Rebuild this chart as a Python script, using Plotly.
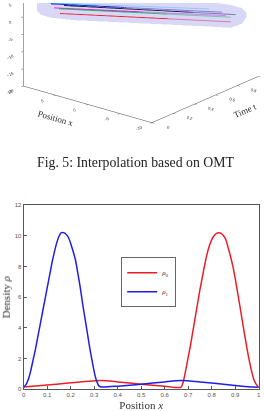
import plotly.graph_objects as go

# ---------------- bottom chart data (Density vs Position) ----------------
rho1_x = [0.00, 0.01, 0.02, 0.03, 0.04, 0.05, 0.06, 0.07, 0.08, 0.09, 0.10, 0.11, 0.12,
          0.13, 0.14, 0.15, 0.16, 0.17, 0.18, 0.19, 0.20, 0.21, 0.22, 0.23, 0.24, 0.25,
          0.26, 0.27, 0.28, 0.29, 0.30, 0.31, 0.32, 0.33, 0.40, 0.50, 0.60, 0.67, 0.75,
          0.85, 0.93, 1.00]
rho1_y = [0.13, 0.30, 0.65, 1.20, 1.90, 2.60, 3.40, 4.20, 5.00, 5.80, 6.60, 7.40, 8.20,
          8.90, 9.50, 9.95, 10.20, 10.20, 10.10, 9.90, 9.50, 9.00, 8.45, 7.60, 6.70, 5.65,
          4.70, 3.75, 2.80, 1.95, 1.15, 0.55, 0.22, 0.15, 0.20, 0.33, 0.48, 0.57, 0.48,
          0.32, 0.20, 0.13]

rho0_x = [0.00, 0.10, 0.20, 0.33, 0.40, 0.50, 0.60, 0.669, 0.68, 0.69, 0.70, 0.71, 0.72,
          0.73, 0.74, 0.75, 0.76, 0.77, 0.78, 0.79, 0.80, 0.81, 0.82, 0.83, 0.84, 0.85,
          0.86, 0.87, 0.88, 0.89, 0.90, 0.91, 0.92, 0.93, 0.94, 0.95, 0.96, 0.97, 0.98,
          0.99, 1.00]
rho0_y = [0.15, 0.28, 0.42, 0.57, 0.48, 0.33, 0.20, 0.13, 0.55, 1.30, 2.10, 2.90, 3.80,
          4.70, 5.60, 6.50, 7.30, 8.10, 8.80, 9.35, 9.75, 10.00, 10.15, 10.20, 10.15, 10.00,
          9.75, 9.20, 8.65, 8.00, 7.20, 6.30, 5.40, 4.45, 3.55, 2.65, 1.85, 1.15, 0.60,
          0.30, 0.13]

x_ticks = [0, 0.1, 0.2, 0.3, 0.4, 0.5, 0.6, 0.7, 0.8, 0.9, 1]
y_ticks = [0, 2, 4, 6, 8, 10, 12]

# ---------------- top 3D chart data (cropped OMT interpolation) ----------------
# each line: time (start, end), position (start, end), velocity (start, end)
line_names = ["cyan", "blue", "black", "magenta", "green", "red"]
line_colors = ["#5fd0ff", "#1a1adc", "#1a1a40", "#e020e0", "#20c060", "#e82030"]
line_t = [[0, 1], [0, 1], [0, 1], [0, 1], [0, 1], [0, 1]]
line_pos = [[6.15, -2.31], [5.69, -4.31], [3.69, -6.46], [5.23, -4.92], [4.46, -5.69], [4.31, -5.69]]
line_vel = [[6.03, -4.63], [6.00, -4.50], [6.57, -4.07], [5.09, -5.17], [5.21, -5.22], [3.94, -6.56]]

# shaded band (upper and lower edge) around the lines
band_t = [0.0, 0.03, 0.08, 0.2, 0.5, 0.8, 0.92, 0.97, 1.0]
band_pos = [7.85, 7.73, 7.02, 5.17, 0.15, -4.86, -7.02, -7.88, -8.15]
band_vel_top = [5.71, 7.08, 7.93, 6.73, 4.21, 1.68, 0.07, -1.0, -2.69]
band_vel_bot = [2.86, 1.37, 0.21, -1.13, -3.37, -5.6, -6.5, -5.57, -3.83]

t_ticks = [0, 0.2, 0.4, 0.6, 0.8, 1]
pos_ticks = [-10, -5, 0, 5, 10]
vel_ticks = [-20, -15, -10, -5, 0, 5, 10, 15, 20]

W, H = 264, 411
AX = "#555555"
SERIF = "Liberation Serif"

fig = go.Figure()

# 3D part
band_color = "rgb(190,190,240)"
fig.add_trace(go.Surface(
    x=[band_t, band_t], y=[band_pos, band_pos], z=[band_vel_top, band_vel_bot],
    colorscale=[[0, band_color], [1, band_color]], showscale=False, opacity=0.6,
    lighting=dict(ambient=1, diffuse=0, specular=0, roughness=1, fresnel=0),
    hoverinfo="skip", scene="scene"))
for nm, c, tt, pp, vv in zip(line_names, line_colors, line_t, line_pos, line_vel):
    fig.add_trace(go.Scatter3d(x=tt, y=pp, z=vv, mode="lines", line=dict(color=c, width=2),
                               showlegend=False, name=nm, scene="scene"))

# 2D part
fig.add_trace(go.Scatter(x=rho0_x, y=rho0_y, mode="lines", name="<i>ρ</i><sub>0</sub>",
                         line=dict(color="rgb(235,30,40)", width=1.5, shape="spline", smoothing=0.6),
                         xaxis="x", yaxis="y"))
fig.add_trace(go.Scatter(x=rho1_x, y=rho1_y, mode="lines", name="<i>ρ</i><sub>1</sub>",
                         line=dict(color="rgb(30,30,230)", width=1.5, shape="spline", smoothing=0.6),
                         xaxis="x", yaxis="y"))

axis3d = dict(showgrid=False, showbackground=False, showline=True, linecolor="#444", linewidth=1,
              zeroline=False, ticks="outside", ticklen=3, tickcolor="#444", showspikes=False,
              tickfont=dict(size=7, color="#333", family="Liberation Sans"))

fig.update_layout(
    width=W, height=H, margin=dict(l=0, r=0, t=0, b=0),
    paper_bgcolor="white", plot_bgcolor="white",
    showlegend=True,
    scene=dict(
        domain=dict(x=[0, 1], y=[0.67, 1]),
        xaxis=dict(axis3d, range=[0, 1], tickvals=t_ticks,
                   title=dict(text="Time t", font=dict(family=SERIF, size=9, color="#333"))),
        yaxis=dict(axis3d, range=[-10, 10], tickvals=pos_ticks,
                   title=dict(text="Position x", font=dict(family=SERIF, size=9, color="#333"))),
        zaxis=dict(axis3d, range=[-20, 20], tickvals=vel_ticks,
                   title=dict(text="Velocity v", font=dict(family=SERIF, size=9, color="#333"))),
        aspectmode="manual", aspectratio=dict(x=2.53, y=2.47, z=2.21),
        camera=dict(projection=dict(type="orthographic"),
                    eye=dict(x=-3.229, y=-2.445, z=0.596),
                    center=dict(x=-0.321, y=-0.089, z=-0.812), up=dict(x=0, y=0, z=1)),
    ),
    xaxis=dict(domain=[22 / W, 260.7 / W], range=[0, 1], tickvals=x_ticks,
               showline=True, mirror=True, linecolor=AX, linewidth=1, showgrid=False, zeroline=False,
               ticks="inside", ticklen=3, tickcolor=AX,
               tickfont=dict(size=6, color="#555", family="Liberation Sans"),
               title=dict(text="Position <i>x</i>", standoff=3,
                          font=dict(family=SERIF, size=11, color="#333")),
               anchor="y"),
    yaxis=dict(domain=[1 - 392 / H, 1 - 205 / H], range=[0, 12], tickvals=y_ticks,
               showline=True, mirror=True, linecolor=AX, linewidth=1, showgrid=False, zeroline=False,
               ticks="inside", ticklen=3, tickcolor=AX,
               tickfont=dict(size=6, color="#555", family="Liberation Sans"),
               title=dict(text="Density <i>ρ</i>", standoff=4,
                          font=dict(family=SERIF, size=11, color="#333")),
               anchor="x"),
    legend=dict(x=121 / W, y=1 - 258 / H, xanchor="left", yanchor="top",
                bgcolor="white", bordercolor="#666", borderwidth=1,
                font=dict(size=7, color="#333", family=SERIF),
                tracegroupgap=0),
    annotations=[dict(text="Fig. 5: Interpolation based on OMT", x=136 / W, y=1 - 161.7 / H,
                      xref="paper", yref="paper", showarrow=False, xanchor="center", yanchor="middle",
                      font=dict(family=SERIF, size=13.8, color="#222"))],
)

fig.write_html("out.html")
